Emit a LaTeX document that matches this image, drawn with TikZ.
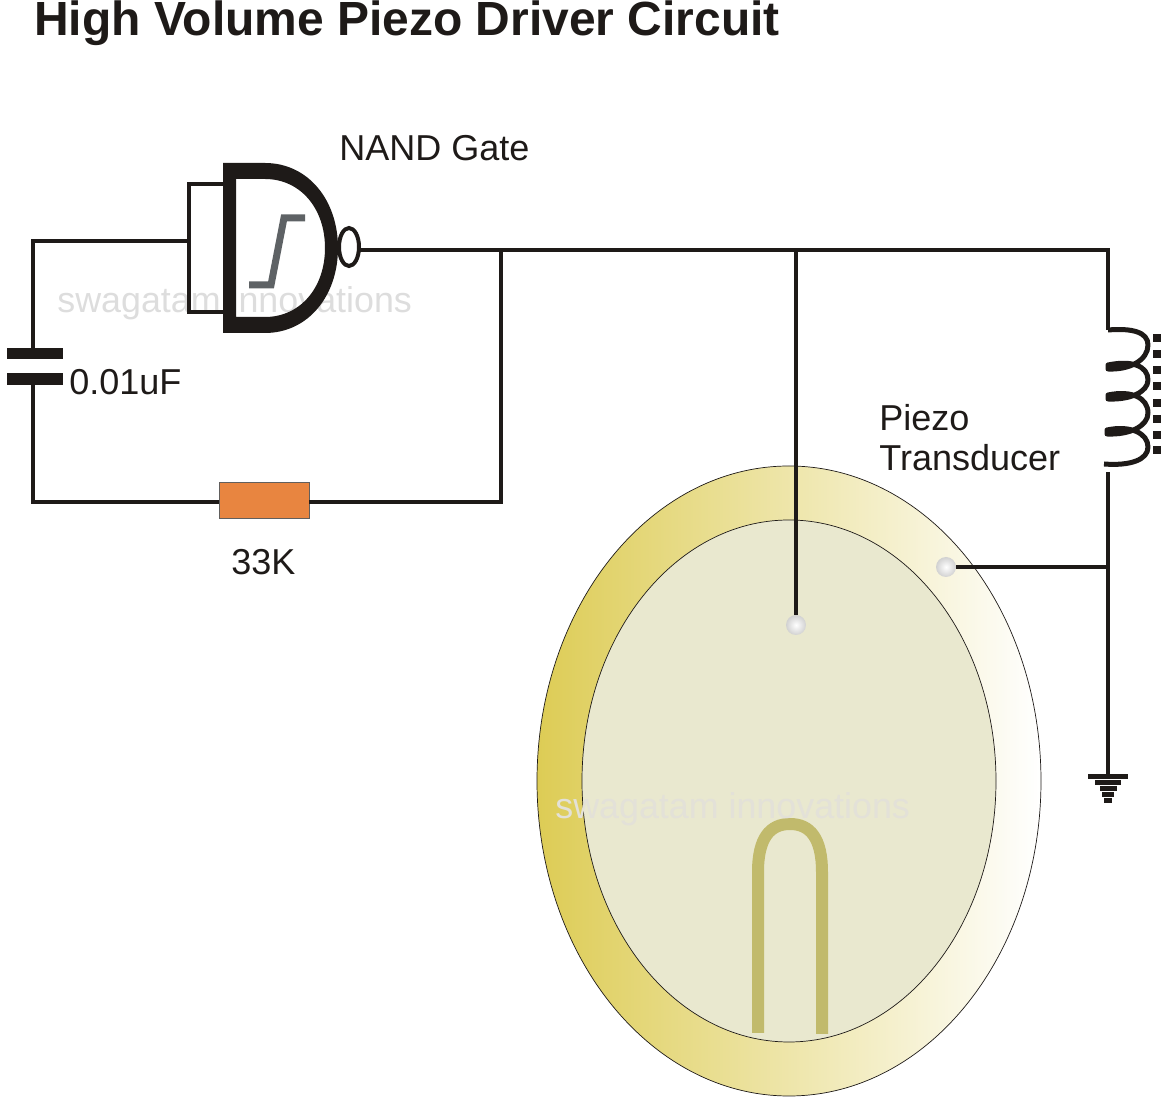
\documentclass[tikz,border=0pt]{standalone}
\usepackage{fontspec}
\setmainfont{Liberation Sans}
\usepackage{xcolor}
\usetikzlibrary{calc}
\definecolor{ink}{HTML}{1E1A18}
\definecolor{mark}{HTML}{DDDDDD}
\definecolor{markb}{HTML}{E3E1D8}
\definecolor{brass}{HTML}{DDCC55}
\definecolor{disc}{HTML}{E9E8CF}
\definecolor{lead}{HTML}{C1BA6C}
\definecolor{resfill}{HTML}{E88540}
\definecolor{hyst}{HTML}{5E6265}
\tikzset{
  wire/.style={draw=ink, line width=0.08cm, line join=miter},
  plate/.style={fill=ink, draw=none},
  lab/.style={text=ink, font=\fontsize{20.5}{24}\selectfont, inner sep=0pt, anchor=base west, align=left},
  wmark/.style={font=\fontsize{20.4}{24}\selectfont, inner sep=0pt, anchor=base west},
  tap/.style={circle, draw=none, inner sep=0pt, minimum size=0.4cm, inner color=white, outer color=black!18},
  res/.style={rectangle, draw=ink!70, line width=0.3pt, fill=resfill, minimum width=1.8cm, minimum height=0.72cm, inner sep=0pt},
}
\begin{document}
\begin{tikzpicture}[x=0.02cm,y=-0.02cm]
  \useasboundingbox (0,0) rectangle (1161,1097);
  % piezo disc
  \shade[left color=brass, right color=white, draw=ink, line width=0.4pt] (789,781) ellipse [x radius=252, y radius=315];
  \draw[fill=disc, draw=ink, line width=0.4pt] (789,781) ellipse [x radius=207, y radius=261];
  \draw[lead, line width=0.24cm] (758,1033) -- (758,872) .. controls (758,838) and (770,824) .. (790,824) .. controls (810,824) and (822,838) .. (822,872) -- (822,1034);
  % watermarks
  \node[wmark, text=mark] (markA) at (57,313) {swagatam innovations};
  \node[wmark, text=markb] (markB) at (555,819) {swagatam innovations};
  \coordinate (inA) at (33,241);
  \coordinate (inB) at (189,241);
  \coordinate (capT) at (33,349);
  \coordinate (capB) at (33,385);
  \coordinate (botL) at (33,502);
  \coordinate (botR) at (501,502);
  \coordinate (outA) at (360,250);
  \coordinate (outJ) at (501,250);
  \coordinate (outK) at (796,250);
  \coordinate (outR) at (1108,250);
  \coordinate (coilT) at (1108,330);
  \coordinate (coilB) at (1108,472);
  \coordinate (tapJ) at (1108,567);
  \coordinate (gnd) at (1108,777);
  \node[res] (R1) at (264,500) {};
  \node[tap] (tapA) at (796,625) {};
  \node[tap] (tapB) at (946,567) {};
  % gate
  \draw[wire, line width=0.07cm] (224,184) -- (189,184) -- (189,312) -- (224,312);
  \draw[ink, line width=0.08cm, fill=white] (349,247) ellipse [x radius=10, y radius=19];
  \fill[ink, even odd rule] (223,163) -- (265,163) .. controls (308,163) and (338,200) .. (338,248) .. controls (338,296) and (308,333) .. (265,333) -- (223,333) -- cycle
    (236,179) -- (265,179) .. controls (300,179) and (325,208) .. (325,248) .. controls (325,288) and (300,317) .. (265,317) -- (236,317) -- cycle;
  \draw[hyst, line width=0.14cm] (249,285) -- (271,285) -- (284,218) -- (305,218);
  % wires
  \draw[wire] (inB) -- (inA) -- (capT);
  \draw[wire] (capB) -- (botL) -- (R1.west |- botL);
  \draw[wire] (R1.east |- botR) -- (botR) -- (outJ);
  \draw[wire] (outA) -- (outR) -- (coilT);
  \draw[wire] (outK) -- (tapA.north);
  \draw[wire] (tapB.east) -- (tapJ);
  \draw[wire] (coilB) -- (gnd);
  % capacitor
  \fill[plate] (7,348) rectangle (63,359);
  \fill[plate] (7,373) rectangle (63,385);
  % coil
  \draw[ink, line width=0.1cm, line join=round] (coilT) .. controls (1132,328) and (1148,332) .. (1148,345) .. controls (1148,360) and (1130,370) .. (1108,369)
    -- (1108,365) .. controls (1132,360) and (1148,366) .. (1148,380) .. controls (1148,392) and (1130,400) .. (1108,399)
    -- (1108,395) .. controls (1132,390) and (1148,398) .. (1148,413) .. controls (1148,426) and (1130,435) .. (1107,434)
    -- (1107,430) .. controls (1130,425) and (1148,433) .. (1148,447) .. controls (1148,460) and (1130,466) .. (1104,464);
  \foreach \yy in {338,354,370,386,403,419,435,450}
    \fill[ink] (1153,\yy-4) rectangle (1161,\yy+4);
  % ground
  \draw[wire, line width=0.1cm] (1088,777) -- (1128,777);
  \draw[wire, line width=0.1cm] (1095,783) -- (1121,783);
  \draw[wire, line width=0.1cm] (1100,789) -- (1117,789);
  \draw[wire, line width=0.1cm] (1102,795) -- (1114,795);
  \draw[wire, line width=0.1cm] (1104,801) -- (1112,801);
  % labels
  \node[lab, font=\fontsize{27.3}{32}\bfseries\selectfont] (title) at (34,36) {High Volume Piezo Driver Circuit};
  \node[lab] (gatelab) at (339,161) {NAND Gate};
  \node[lab] (caplab) at (69,395) {0.01uF};
  \node[lab] (reslab) at (231,575) {33K};
  \node[lab] (pzlab) at (879,431) {Piezo};
  \node[lab] (pzlabb) at (879,471) {Transducer};
\end{tikzpicture}
\end{document}
